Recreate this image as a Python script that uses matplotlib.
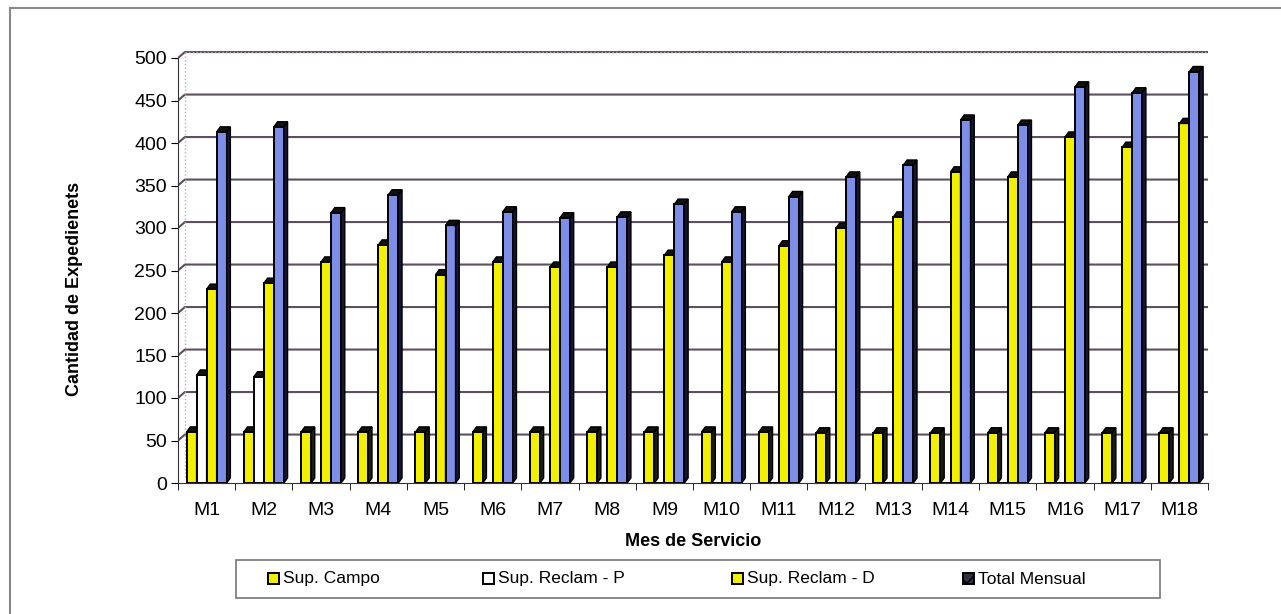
# Expedientes por mes de servicio - columnas agrupadas con efecto 3D.

import matplotlib.pyplot as plt
from matplotlib.patches import Polygon, Rectangle
from matplotlib.lines import Line2D

plt.rcParams['font.family'] = ['Liberation Sans', 'DejaVu Sans']

# Datos por mes
meses = ['M1', 'M2', 'M3', 'M4', 'M5', 'M6', 'M7', 'M8', 'M9',
         'M10', 'M11', 'M12', 'M13', 'M14', 'M15', 'M16', 'M17', 'M18']
sup_campo = [60, 60, 60, 60, 60, 60, 60, 60, 60, 60, 60, 59, 59, 59, 59, 59, 59, 59]
sup_reclam_p = [127, 125, 0, 0, 0, 0, 0, 0, 0, 0, 0, 0, 0, 0, 0, 0, 0, 0]
sup_reclam_d = [228, 235, 260, 280, 245, 260, 254, 254, 268, 260, 279, 300, 313, 366, 360, 407, 395, 423]
total_mensual = [413, 419, 318, 339, 303, 319, 312, 313, 328, 319, 337, 360, 374, 427, 421, 466, 459, 484]

series = [
    ('Sup. Campo', sup_campo, '#f2f000'),
    ('Sup. Reclam - P', sup_reclam_p, '#ffffff'),
    ('Sup. Reclam - D', sup_reclam_d, '#f2f000'),
    ('Total Mensual', total_mensual, '#7d8ee8'),
]

fig = plt.figure(figsize=(12.81, 6.14), dpi=100)
ax = fig.add_axes([178 / 1281, 131 / 614, 1030 / 1281, 433.5 / 614])

n = len(meses)
x = list(range(n))
w = 0.175          # ancho de cada barra
dx, dy = 0.065, 6  # profundidad de las barras
wx, wy = 0.12, 7   # desplazamiento de la pared del fondo

# pared del fondo y lineas de division
for v in range(50, 501, 50):
    ax.plot([-0.5, -0.5 + wx, 17.5 + wx], [v, v + wy, v + wy],
            color='#5e4e5e', lw=1.5, zorder=1)
ax.plot([-0.5 + wx, 17.5 + wx], [500 + wy, 500 + wy], color='#b0b0b0', lw=1, ls=':', zorder=1)
ax.plot([17.5 + wx, 17.5 + wx], [wy, 500 + wy], color='#b0b0b0', lw=1, ls=':', zorder=1)
ax.plot([-0.5 + wx, -0.5 + wx], [wy, 500 + wy], color='#b0b0b0', lw=1, ls=':', zorder=1)

# barras
for k, (name, vals, color) in enumerate(series):
    offs = (k - 1.5) * w
    xs = [xi + offs for xi in x]
    z = 3 + k
    ax.bar(xs, vals, width=w, color=color, edgecolor='black', linewidth=1.4, zorder=z)
    side = '#151535' if k == 3 else '#1e1e10'
    for xi, v in zip(xs, vals):
        if v <= 0:
            continue
        l, r = xi - w / 2, xi + w / 2
        ax.add_patch(Polygon([(l, v), (r, v), (r + dx, v + dy), (l + dx, v + dy)],
                             closed=True, facecolor='#111111', edgecolor='black', lw=1.0, zorder=z))
        ax.add_patch(Polygon([(r, 0), (r, v), (r + dx, v + dy), (r + dx, dy)],
                             closed=True, facecolor=side, edgecolor='black', lw=1.0, zorder=z))

ax.set_xlim(-0.5, 17.5)
ax.set_ylim(0, 510)
ax.set_yticks(range(0, 501, 50))
ax.set_xticks(x)
ax.set_xticklabels(meses)
ax.set_xticks([i - 0.5 for i in range(n + 1)], minor=True)
ax.tick_params(axis='x', which='major', length=0, pad=14, labelsize=14)
ax.tick_params(axis='x', which='minor', length=5, direction='out')
ax.tick_params(axis='y', length=5, direction='out', labelsize=14, pad=3)
for s in ['top', 'right']:
    ax.spines[s].set_visible(False)
ax.spines['left'].set_bounds(0, 500)
ax.spines['left'].set_color('#333333')
ax.spines['bottom'].set_color('#333333')

ax.set_xlabel('Mes de Servicio', fontsize=13, fontweight='bold')
ax.xaxis.set_label_coords(0.5, -0.115)
ax.set_ylabel('Cantidad de Expedienets', fontsize=13, fontweight='bold')
ax.yaxis.set_label_coords(-0.092, 0.447)

# leyenda
def fx(px):
    return px / 1281

def fy(py):
    return 1 - py / 614

fig.add_artist(Rectangle((fx(236), fy(598)), fx(1160) - fx(236), fy(560) - fy(598),
                         transform=fig.transFigure, fill=False, edgecolor='#777777', lw=1.2))
legend_pos = [268, 483, 732, 963]
legend_fc = ['#f2f000', '#ffffff', '#f2f000', '#303040']
for (name, vals, color), px, fc in zip(series, legend_pos, legend_fc):
    fig.add_artist(Rectangle((fx(px), fy(584)), fx(11), 11 / 614, transform=fig.transFigure,
                             facecolor=fc, edgecolor='black', lw=1.4,
                             hatch='xx' if name == 'Total Mensual' else None))
    fig.text(fx(px + 15), fy(579), name, fontsize=12.5, va='center', ha='left')

# marco exterior
fig.add_artist(Line2D([fx(10), 1], [fy(8), fy(8)], transform=fig.transFigure, color='#888888', lw=1.5))
fig.add_artist(Line2D([fx(10), fx(10)], [0, fy(8)], transform=fig.transFigure, color='#888888', lw=1.5))

plt.savefig('out.png', dpi=100)
